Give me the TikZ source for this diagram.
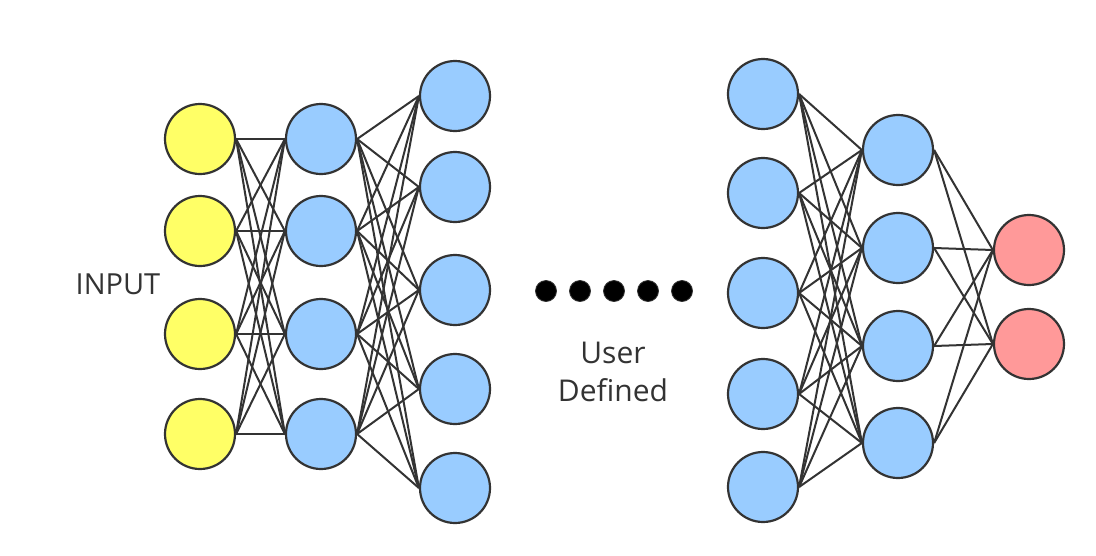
\documentclass[tikz,border=0pt]{standalone}
\usepackage{fontspec}
\setmainfont{Open Sans}
\usepackage{tikz}
\usetikzlibrary{positioning}
\definecolor{ink}{RGB}{51,51,51}
\definecolor{inyellow}{RGB}{255,255,102}
\definecolor{hidblue}{RGB}{153,204,255}
\definecolor{outred}{RGB}{255,153,153}
\tikzset{
  neuron/.style={circle,draw=ink,line width=2.2pt,minimum size=70pt,inner sep=0pt},
  synapse/.style={draw=ink,line width=2pt},
  dotnode/.style={circle,fill=black,draw=ink,line width=0.8pt,minimum size=21pt,inner sep=0pt},
  caption/.style={text=ink,font=\fontsize{30}{38}\selectfont,align=center}
}

\begin{document}
\begin{tikzpicture}[x=1pt,y=-1pt]
  \useasboundingbox (0,0) rectangle (1096,555);
  % layers of neurons
  \foreach \y [count=\i] in {139,231,334,434}
    \node[neuron,fill=inyellow] (in\i) at (200,\y) {};
  \foreach \y [count=\i] in {139,231,334,434}
    \node[neuron,fill=hidblue] (ha\i) at (321,\y) {};
  \foreach \y [count=\i] in {96,187,290,389,488}
    \node[neuron,fill=hidblue] (hb\i) at (455,\y) {};
  \foreach \y [count=\i] in {94,193,293,394,487}
    \node[neuron,fill=hidblue] (hc\i) at (763,\y) {};
  \foreach \y [count=\i] in {150,248,346,443}
    \node[neuron,fill=hidblue] (hd\i) at (898,\y) {};
  \foreach \y [count=\i] in {250,344}
    \node[neuron,fill=outred] (out\i) at (1029,\y) {};
  % connections
  \foreach \i in {1,...,4}
    \foreach \j in {1,...,4}
      \draw[synapse] (in\i.east) -- (ha\j.west);
  \foreach \i in {1,...,4}
    \foreach \j in {1,...,5}
      \draw[synapse] (ha\i.east) -- (hb\j.west);
  \foreach \i in {1,...,5}
    \foreach \j in {1,...,4}
      \draw[synapse] (hc\i.east) -- (hd\j.west);
  \foreach \i in {1,...,4}
    \foreach \j in {1,2}
      \draw[synapse] (hd\i.east) -- (out\j.west);
  % ellipsis between layers
  \foreach \x [count=\i] in {546,580,614,648,682}
    \node[dotnode] (dot\i) at (\x,291) {};
  \node[caption,font=\fontsize{29}{36}\selectfont] (inlabel) at (118,284) {INPUT};
  \node[caption] (userlabel) at (613,372) {User\\Defined};
\end{tikzpicture}
\end{document}
